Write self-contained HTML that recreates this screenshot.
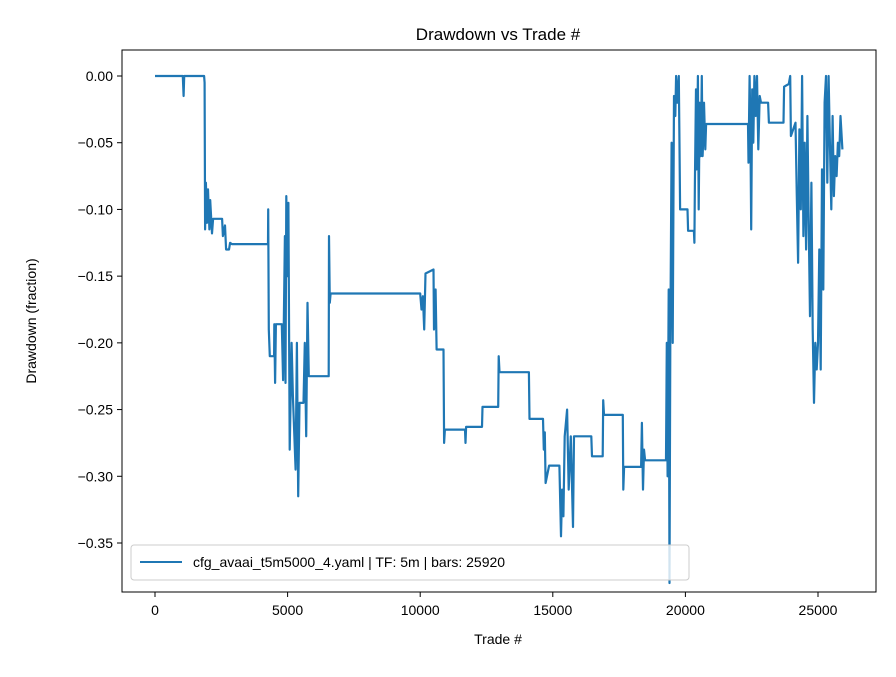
<!DOCTYPE html>
<html><head><meta charset="utf-8"><style>
body{margin:0;background:#fff;}
svg text{font-family:"Liberation Sans","DejaVu Sans",sans-serif;fill:#000;}
</style></head><body>
<svg id="chart" width="896" height="672" viewBox="0 0 896 672" xmlns="http://www.w3.org/2000/svg">
<rect width="896" height="672" fill="#fff"/>
<text x="498" y="40" font-size="17" text-anchor="middle">Drawdown vs Trade #</text>
<g id="grid"></g>
<g id="series"></g>
<rect x="122" y="50" width="754" height="542" fill="none" stroke="#000" stroke-width="1"/>
<g id="xticks"></g>
<g id="yticks"></g>
<text x="498" y="644" font-size="14" text-anchor="middle">Trade #</text>
<text x="36" y="321" font-size="14" text-anchor="middle" transform="rotate(-90 36 321)">Drawdown (fraction)</text>
<g>
<rect x="131" y="545" width="558" height="35" rx="3" fill="#fff" fill-opacity="0.8" stroke="#ccc"/>
<line x1="140" y1="562" x2="182" y2="562" stroke="#1f77b4" stroke-width="2"/>
<text x="193" y="567" font-size="14">cfg_avaai_t5m5000_4.yaml | TF: 5m | bars: 25920</text>
</g>
</svg>
<script>
const xTicks=[0,5000,10000,15000,20000,25000];
const yTicks=[0,-0.05,-0.10,-0.15,-0.20,-0.25,-0.30,-0.35];
const yTickLabels=["0.00","−0.05","−0.10","−0.15","−0.20","−0.25","−0.30","−0.35"];
const trades=[0,1050,1080,1100,1850,1870,1890,1920,1960,2000,2050,2080,2150,2190,2530,2560,2640,2680,2790,2830,2900,4260,4270,4290,4330,4490,4500,4530,4560,4780,4830,4900,4920,4950,5000,5030,5080,5150,5200,5300,5350,5400,5450,5600,5650,5700,5750,5800,6550,6560,6590,6620,10000,10050,10100,10150,10200,10500,10520,10580,10620,10880,10900,10930,11690,11710,11730,12330,12350,12940,12960,12990,14100,14120,14630,14660,14700,14730,14860,15250,15310,15350,15400,15450,15540,15600,15680,15760,15800,16450,16480,16880,16900,16930,17640,17660,17690,18330,18360,18400,18440,18480,19270,19300,19330,19370,19400,19430,19480,19520,19570,19620,19650,19700,19750,19780,19800,20080,20100,20320,20340,20360,20400,20430,20470,20500,20540,20580,20620,20650,20680,20700,20750,20780,22360,22380,22420,22450,22480,22520,22560,22600,22650,22700,22750,22800,22850,23120,23150,23700,23720,23900,23950,23980,24150,24200,24250,24300,24350,24400,24450,24500,24550,24600,24650,24700,24750,24800,24850,24900,24950,25000,25050,25100,25150,25200,25250,25300,25350,25400,25450,25500,25550,25600,25650,25700,25750,25800,25850,25920];
const drawdown=[0,0,-0.015,0,0,-0.005,-0.115,-0.08,-0.11,-0.085,-0.115,-0.093,-0.118,-0.107,-0.107,-0.12,-0.112,-0.13,-0.13,-0.125,-0.126,-0.126,-0.10,-0.19,-0.21,-0.21,-0.186,-0.23,-0.186,-0.186,-0.228,-0.12,-0.23,-0.09,-0.15,-0.095,-0.28,-0.2,-0.24,-0.295,-0.2,-0.315,-0.245,-0.245,-0.2,-0.27,-0.17,-0.225,-0.225,-0.12,-0.17,-0.163,-0.163,-0.175,-0.165,-0.19,-0.148,-0.145,-0.19,-0.16,-0.205,-0.205,-0.275,-0.265,-0.265,-0.275,-0.263,-0.263,-0.248,-0.248,-0.21,-0.222,-0.222,-0.257,-0.257,-0.28,-0.267,-0.305,-0.292,-0.292,-0.345,-0.31,-0.33,-0.27,-0.25,-0.31,-0.27,-0.338,-0.27,-0.27,-0.285,-0.285,-0.243,-0.254,-0.254,-0.31,-0.293,-0.293,-0.26,-0.31,-0.28,-0.288,-0.288,-0.2,-0.3,-0.16,-0.38,-0.2,-0.05,-0.2,-0.015,-0.03,0,-0.02,0,-0.06,-0.1,-0.1,-0.116,-0.116,-0.125,-0.08,-0.01,-0.07,0,-0.1,-0.02,-0.06,0,-0.06,-0.045,-0.02,-0.055,-0.036,-0.036,-0.065,0,-0.04,-0.115,-0.01,-0.05,0,-0.03,0,-0.055,-0.015,-0.02,-0.02,-0.035,-0.035,-0.008,-0.006,0,-0.045,-0.035,-0.09,-0.14,-0.04,-0.1,0,-0.12,-0.05,-0.13,-0.03,-0.11,-0.18,-0.08,-0.19,-0.245,-0.2,-0.22,-0.2,-0.13,-0.22,-0.07,-0.16,-0.02,0,-0.08,0,-0.05,-0.1,-0.03,-0.09,-0.06,-0.075,-0.05,-0.06,-0.03,-0.055];
const NS="http://www.w3.org/2000/svg";
const xS=v=>155+v*(818-155)/25000;
const yS=v=>76-v*(543-76)/0.35;
const xg=document.getElementById('xticks');
xTicks.forEach(t=>{
 const l=document.createElementNS(NS,'line');
 l.setAttribute('x1',xS(t));l.setAttribute('x2',xS(t));l.setAttribute('y1',592);l.setAttribute('y2',597);l.setAttribute('stroke','#000');
 
 
 xg.appendChild(l);
 const tx=document.createElementNS(NS,'text');
 tx.setAttribute('x',xS(t));tx.setAttribute('y',615);tx.setAttribute('font-size','14');tx.setAttribute('text-anchor','middle');
 tx.textContent=String(t);
 
 
 xg.appendChild(tx);
});
const yg=document.getElementById('yticks');
yTicks.forEach((t,i)=>{
 const l=document.createElementNS(NS,'line');
 l.setAttribute('x1',117);l.setAttribute('x2',122);l.setAttribute('y1',yS(t));l.setAttribute('y2',yS(t));l.setAttribute('stroke','#000');
 
 
 yg.appendChild(l);
 const tx=document.createElementNS(NS,'text');
 tx.setAttribute('x',113);tx.setAttribute('y',yS(t)+5);tx.setAttribute('font-size','14');tx.setAttribute('text-anchor','end');
 tx.textContent=yTickLabels[i];
 
 
 yg.appendChild(tx);
});
const p=document.createElementNS(NS,'polyline');
p.setAttribute('points',trades.map((t,i)=>xS(t).toFixed(1)+','+yS(drawdown[i]).toFixed(1)).join(' '));
p.setAttribute('fill','none');p.setAttribute('stroke','#1f77b4');p.setAttribute('stroke-width','2.2');p.setAttribute('stroke-linejoin','round');


document.getElementById('series').appendChild(p);
</script>
</body></html>
